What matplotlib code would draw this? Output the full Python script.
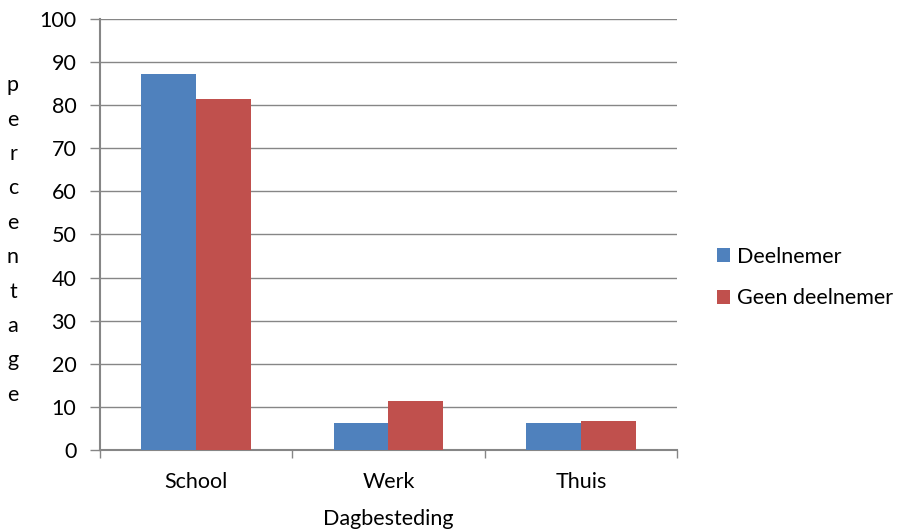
import numpy as np
import matplotlib.pyplot as plt

plt.rcParams['font.family'] = ['Lato', 'DejaVu Sans']

categories = ['School', 'Werk', 'Thuis']
deelnemer = [87.2, 6.2, 6.2]
geen_deelnemer = [81.4, 11.4, 6.8]
series_names = ['Deelnemer', 'Geen deelnemer']
colors = ['#4F81BD', '#C0504D']
axis_grey = '#868686'
fs = 15.5

fig = plt.figure(figsize=(9, 5.3), dpi=100)
ax = fig.add_axes([100 / 900, 80 / 530, 577 / 900, 431 / 530])

x = np.arange(len(categories))
w = 1 / 3.5
ax.bar(x - w / 2, deelnemer, w, color=colors[0], label=series_names[0], zorder=3)
ax.bar(x + w / 2, geen_deelnemer, w, color=colors[1], label=series_names[1], zorder=3)

ax.set_xlim(-0.5, len(categories) - 0.5)
ax.set_ylim(0, 100)
ax.set_yticks(np.arange(0, 101, 10))
ax.yaxis.grid(True, color=axis_grey, linewidth=1, zorder=0)

# category boundaries get the tick marks, labels sit in the middle
ax.set_xticks(np.arange(-0.5, len(categories), 1))
ax.set_xticklabels([])
ax.set_xticks(x, minor=True)
ax.set_xticklabels(categories, minor=True)
ax.tick_params(axis='x', which='major', length=6, color=axis_grey, width=1)
ax.tick_params(axis='x', which='minor', length=0, pad=16, labelsize=fs)
ax.tick_params(axis='y', length=7, color=axis_grey, width=1, pad=10, labelsize=fs)

for s in ['top', 'right']:
    ax.spines[s].set_visible(False)
for s in ['left', 'bottom']:
    ax.spines[s].set_color(axis_grey)
    ax.spines[s].set_linewidth(1.5)

ax.set_xlabel('Dagbesteding', fontsize=fs, labelpad=12)
fig.text(13 / 900, 290 / 530, '\n'.join('percentage'), fontsize=fs,
         ha='center', va='center', linespacing=1.9)

ax.legend(loc='center left', bbox_to_anchor=(1.036, 0.40), frameon=False,
          fontsize=fs, handlelength=0.6, handleheight=0.6, handletextpad=0.3,
          labelspacing=1.0)

fig.savefig('out.png', dpi=100)
